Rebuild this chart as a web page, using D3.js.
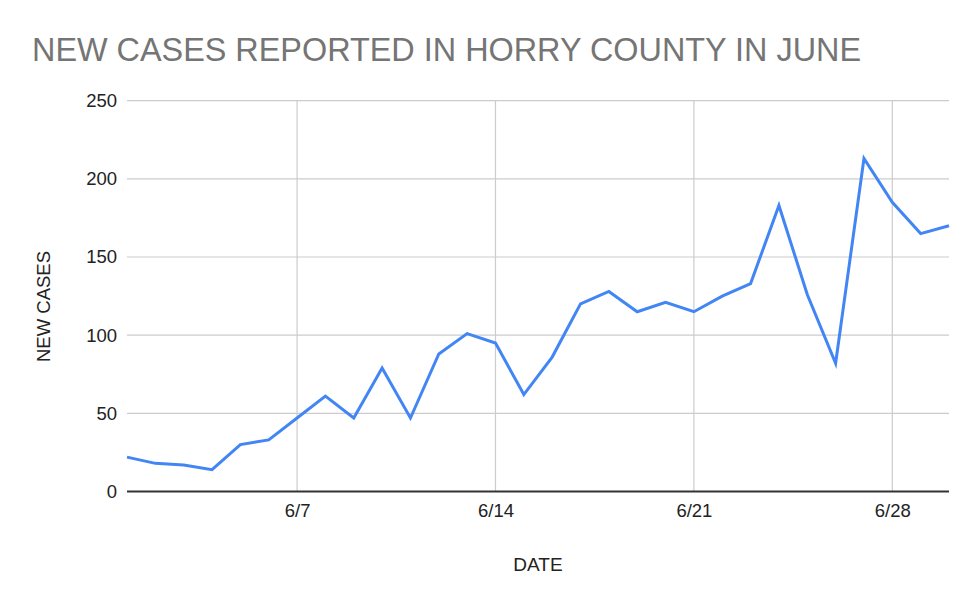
<!DOCTYPE html>
<html>
<head>
<meta charset="utf-8">
<script src="https://cdn.jsdelivr.net/npm/d3@7"></script>
<style>
  html, body { margin: 0; padding: 0; background: #fff; }
  svg { display: block; font-family: "Liberation Sans", Arial, sans-serif; }
</style>
</head>
<body>
<svg id="chart" width="980" height="605"></svg>
<script>
// Data: day of June (1..30) and new cases
const days = [1,2,3,4,5,6,7,8,9,10,11,12,13,14,15,16,17,18,19,20,21,22,23,24,25,26,27,28,29,30];
const newCases = [22,18,17,14,30,33,47,61,47,79,47,88,101,95,62,86,120,128,115,121,115,125,133,183,126,82,213,185,165,170];
const xTickDays = [7,14,21,28];
const xTickLabels = ["6/7","6/14","6/21","6/28"];
const yTicks = [0,50,100,150,200,250];
const titleText = "NEW CASES REPORTED IN HORRY COUNTY IN JUNE";
const xAxisTitle = "DATE";
const yAxisTitle = "NEW CASES";

(function () {
const svg = d3.select("#chart");
const pLeft = 127, pRight = 949, pTop = 100.7, pBottom = 491.5;

const x = d3.scaleLinear().domain([1, 30]).range([pLeft, pRight]);
const y = d3.scaleLinear().domain([0, 250]).range([pBottom, pTop]);

// Title
svg.append("text")
  .attr("x", 32).attr("y", 61)
  .attr("font-size", 32.4)
  .attr("fill", "#757575")
  .text(titleText);

// Horizontal gridlines
svg.append("g")
  .selectAll("line")
  .data(yTicks.filter(d => d !== 0))
  .join("line")
  .attr("x1", pLeft).attr("x2", pRight)
  .attr("y1", d => y(d)).attr("y2", d => y(d))
  .attr("stroke", "#cccccc").attr("stroke-width", 1.2);

// Vertical gridlines
svg.append("g")
  .selectAll("line")
  .data(xTickDays)
  .join("line")
  .attr("x1", d => x(d)).attr("x2", d => x(d))
  .attr("y1", pTop).attr("y2", pBottom)
  .attr("stroke", "#cccccc").attr("stroke-width", 1.2);

// Y axis via d3.axisLeft (labels only)
const yAxis = svg.append("g")
  .attr("transform", `translate(${pLeft},0)`)
  .call(d3.axisLeft(y).tickValues(yTicks).tickSize(0).tickPadding(10));
yAxis.select(".domain").remove();
yAxis.selectAll("text")
  .attr("font-family", "Liberation Sans, Arial, sans-serif")
  .attr("font-size", 18.5)
  .attr("fill", "#222");

// X axis
const xAxis = svg.append("g")
  .attr("transform", `translate(0,${pBottom})`)
  .call(d3.axisBottom(x).tickValues(xTickDays)
    .tickFormat((d, i) => xTickLabels[i]).tickSize(0).tickPadding(12));
xAxis.select(".domain").remove();
xAxis.selectAll("text")
  .attr("font-family", "Liberation Sans, Arial, sans-serif")
  .attr("font-size", 18.5)
  .attr("fill", "#222");

// Baseline
svg.append("line")
  .attr("x1", pLeft).attr("x2", pRight)
  .attr("y1", y(0)).attr("y2", y(0))
  .attr("stroke", "#333").attr("stroke-width", 1.8);

// Data line
const line = d3.line()
  .x((d, i) => x(days[i]))
  .y(d => y(d));
svg.append("path")
  .datum(newCases)
  .attr("d", line)
  .attr("fill", "none")
  .attr("stroke", "#4285F4")
  .attr("stroke-width", 3)
  .attr("stroke-linejoin", "miter")
  .attr("stroke-linecap", "butt");

// Axis titles
svg.append("text")
  .attr("x", (pLeft + pRight) / 2).attr("y", 570.5)
  .attr("text-anchor", "middle")
  .attr("font-size", 19)
  .attr("fill", "#222")
  .text(xAxisTitle);

svg.append("text")
  .attr("transform", "translate(49.5,306.5) rotate(-90)")
  .attr("text-anchor", "middle")
  .attr("font-size", 18.5)
  .attr("fill", "#222")
  .text(yAxisTitle);
})();
</script>
</body>
</html>
